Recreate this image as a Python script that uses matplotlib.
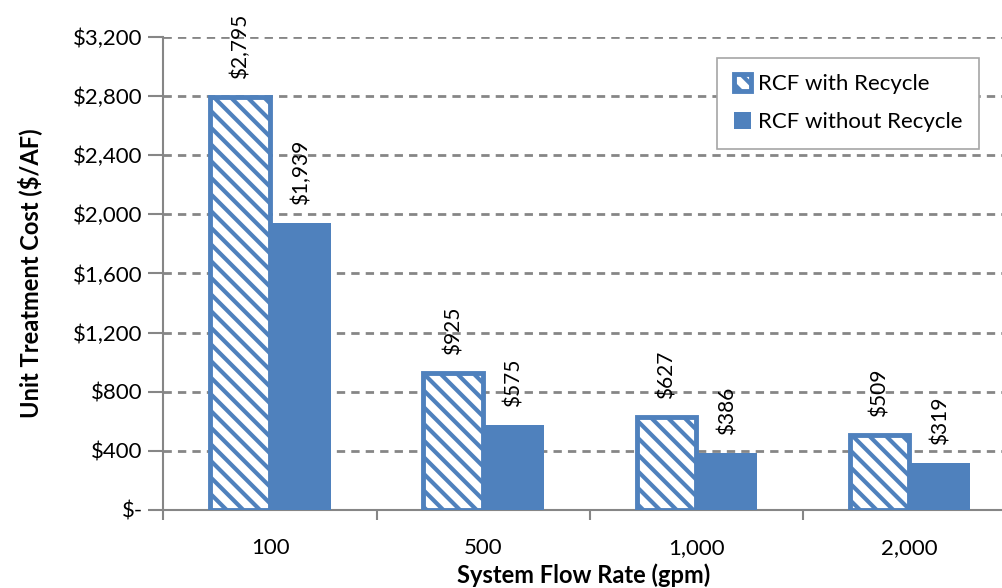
import numpy as np
import matplotlib.pyplot as plt
from matplotlib.ticker import FuncFormatter, MultipleLocator, FixedLocator

plt.rcParams['font.family'] = ['Lato', 'DejaVu Sans']
plt.rcParams['hatch.linewidth'] = 3.0
plt.rcParams['hatch.color'] = '#4F81BD'

# data
flow_rates = ['100', '500', '1,000', '2,000']
with_recycle = [2795, 925, 627, 509]
without_recycle = [1939, 575, 386, 319]

blue = '#4F81BD'
grey = '#868686'

fig = plt.figure(figsize=(10.03, 5.88), dpi=100)
ax = fig.add_axes([0.163, 0.1327, 0.837, 0.8044])

x = np.arange(len(flow_rates))
w = 0.28

b1 = ax.bar(x - w / 2, with_recycle, w, facecolor='white', edgecolor=blue,
            hatch='\\\\', linewidth=3.5, label='RCF with Recycle', zorder=3)
b2 = ax.bar(x + w / 2 + 0.005, without_recycle, w, color=blue,
            label='RCF without Recycle', zorder=3)

# rotated value labels above each bar
for bars, vals in [(b1, with_recycle), (b2, without_recycle)]:
    for rect, v in zip(bars, vals):
        ax.annotate(f'${v:,}', (rect.get_x() + rect.get_width() / 2, v),
                    xytext=(0, 13), textcoords='offset points',
                    rotation=90, ha='center', va='bottom', fontsize=15)

ax.set_ylim(0, 3200)
ax.set_xlim(-0.5, 3.44)
ax.yaxis.set_major_locator(MultipleLocator(400))
ax.yaxis.set_major_formatter(FuncFormatter(lambda v, p: '$-' if v == 0 else f'${v:,.0f}'))
ax.grid(axis='y', linestyle=(0, (3, 2.2)), color=grey, linewidth=2, zorder=0)

ax.set_xticks(x)
ax.set_xticklabels(flow_rates, fontsize=16)
ax.xaxis.set_minor_locator(FixedLocator(np.arange(-0.5, 3.5, 1.0)))
ax.tick_params(axis='x', which='major', length=0, pad=20)
ax.tick_params(axis='x', which='minor', length=7, width=1.5, color=grey)
ax.tick_params(axis='y', length=11, width=1.5, color=grey, labelsize=16, pad=4)

for s in ['top', 'right']:
    ax.spines[s].set_visible(False)
for s in ['left', 'bottom']:
    ax.spines[s].set_color(grey)
    ax.spines[s].set_linewidth(1.5)

ax.set_ylabel('Unit Treatment Cost ($/AF)', fontsize=17, fontweight='bold', labelpad=22)
ax.set_xlabel('System Flow Rate (gpm)', fontsize=17, fontweight='bold', labelpad=4)

leg = ax.legend(loc='upper right', bbox_to_anchor=(0.985, 0.98), fontsize=16,
                handlelength=0.8, handleheight=0.8, handletextpad=0.3,
                borderpad=0.75, labelspacing=0.8, fancybox=False, framealpha=1)
leg.get_frame().set_edgecolor('#a6a6a6')
leg.get_frame().set_linewidth(1.2)

fig.savefig('out.png', dpi=100)
